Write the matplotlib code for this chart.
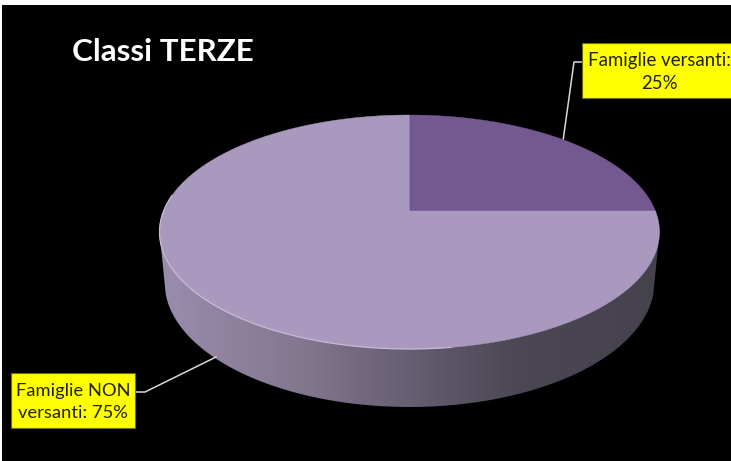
import numpy as np
import matplotlib
matplotlib.use("Agg")
import matplotlib.pyplot as plt
from matplotlib.colors import LinearSegmentedColormap
from matplotlib.patches import Rectangle

title = "Classi TERZE"
categories = ["Famiglie versanti", "Famiglie NON versanti"]
shares = [25, 75]
labels = ["Famiglie versanti:\n25%", "Famiglie NON\nversanti: 75%"]
colors = ["#745890", "#a999bf"]

W, H = 731, 461
fig = plt.figure(figsize=(W / 100, H / 100), dpi=100, facecolor="white")
ax = fig.add_axes([0, 0, 1, 1])
ax.set_xlim(0, W)
ax.set_ylim(H, 0)
ax.axis("off")
ax.add_patch(Rectangle((2, 5), W, H, fc="black", ec="none", zorder=0))

CX, CY, RX, RY = 409.5, 232, 250, 117
A = 21 / 117


def project(theta):
    """Clockwise angle from 12 o'clock on the pie -> tilted, perspective view."""
    u, v = np.sin(theta), np.cos(theta)
    d = 1 + A * v
    return CX + RX * u * np.sqrt(1 - A * A) / d, CY - RY * (v + A) / d


# side wall: vertical strips following a horizontal gradient
wall_cmap = LinearSegmentedColormap.from_list(
    "wall",
    [(0, "#9a8cad"), (0.28, "#83778f"), (0.5, "#665e72"), (0.72, "#4a4652"), (1, "#45424d")],
)
for x0 in np.arange(160, 658, 2.0):
    c = wall_cmap((x0 + 1 - 160) / 499.0)
    ax.fill([x0, x0 + 2, x0 + 2, x0], [234, 234, 415, 415], fc=c, ec=c, lw=0.2, zorder=1)

# black mask that gives the wall its smooth silhouette
xs = np.linspace(164.5, 654.5, 400)
low = 282 + 125 * np.sqrt(np.clip(1 - ((xs - 409.5) / 245.0) ** 2, 0, 1))
ax.fill(np.r_[150, 159.5, xs, 659.5, 670, 670, 150],
        np.r_[232, 232, low, 232, 232, 420, 420],
        fc="black", ec="none", zorder=2)

# leader lines
ax.plot([582, 574, 563], [62, 62, 141], color="#d9d9d9", lw=1.1, zorder=2.5)
ax.plot([135, 145, 216], [392, 392, 357], color="#d9d9d9", lw=1.1, zorder=2.5)

# top face, slices from the values
start = 0.0
for share, color in zip(shares, colors):
    end = start + 2 * np.pi * share / sum(shares)
    x, y = project(np.linspace(start, end, 240))
    ax.fill(np.r_[CX, x], np.r_[211, y], fc=color, ec=color, lw=0.3, zorder=3)
    start = end

# pale rim along the front-left edge
rx, ry = project(np.radians(np.linspace(278, 172, 200)))
ax.plot(rx, ry, color="#c6bbd6", lw=0.9, zorder=4)

# label boxes
ax.add_patch(Rectangle((582, 43.5), 160, 54.5, fc="#ffff00", ec="#6b6b00", lw=0.8, zorder=5))
ax.add_patch(Rectangle((10.5, 373), 124.5, 55, fc="#ffff00", ec="#6b6b00", lw=0.8, zorder=5))
FONT = "Lato"
ax.text(659, 72, labels[0], ha="center", va="center", fontsize=13.4, family=FONT,
        color="#222200", linespacing=1.45, zorder=6)
ax.text(73, 402, labels[1], ha="center", va="center", fontsize=13.2, family=FONT,
        color="#222200", linespacing=1.45, zorder=6)

ax.text(72, 61, title, ha="left", va="baseline", fontsize=22.6, fontweight="bold",
        family=FONT, color="white", zorder=6)

fig.savefig("out.png", dpi=100, facecolor="white")
